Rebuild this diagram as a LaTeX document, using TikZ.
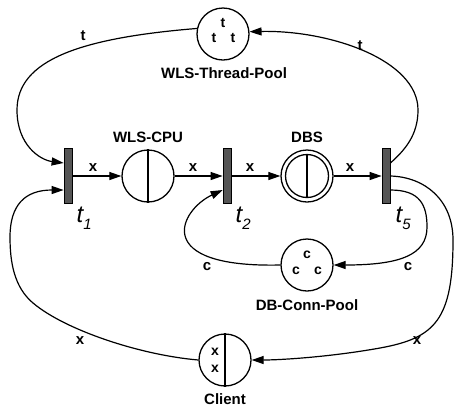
\documentclass[tikz,border=0pt]{standalone}
\usepackage{fontspec}
\setmainfont{Liberation Sans}
\usetikzlibrary{arrows.meta}
\definecolor{tgray}{HTML}{555555}
\begin{document}
\begin{tikzpicture}[x=1pt,y=-1pt,
  place/.style={circle,draw,line width=1.3pt,minimum size=52pt,inner sep=0pt},
  trans/.style={rectangle,draw,line width=0.8pt,fill=tgray,minimum width=8pt,minimum height=55pt,inner sep=0pt},
  arc/.style={line width=1.2pt,-{Triangle[length=12pt,width=8pt]}},
  bar/.style={line width=1.3pt},
  lbl/.style={font=\fontsize{15}{15}\selectfont\bfseries,inner sep=0pt},
  tok/.style={font=\fontsize{14}{14}\selectfont\bfseries,inner sep=0pt},
  tname/.style={font=\fontsize{24}{24}\selectfont\itshape,inner sep=0pt,anchor=base west}]
\useasboundingbox (0,0) rectangle (454,408);
% transitions
\node[trans] (t1) at (68,176) {};
\node[trans] (t2) at (227,176) {};
\node[trans] (t5) at (386,176) {};
% places
\node[place] (cpu) at (148,176) {};
\node[place] (dbs) at (307,176) {};
\node[place] (pool) at (223,34) {};
\node[place] (conn) at (307,265) {};
\node[place] (client) at (225,360) {};
\draw[bar] (cpu.north) -- (cpu.south);
\draw[bar] (client.north) -- (client.south);
\draw[bar] (dbs.center) circle (21.5);
\draw[bar] ([yshift=21.5pt]dbs.center) -- ([yshift=-21.5pt]dbs.center);
% tokens
\node[tok] (pt1) at (223,23) {t};
\node[tok] (pt2) at (214,38) {t};
\node[tok] (pt3) at (233,38) {t};
\node[tok] (ct1) at (307,255) {c};
\node[tok] (ct2) at (296,271) {c};
\node[tok] (ct3) at (318,271) {c};
\node[tok] (xt1) at (215,352) {x};
\node[tok] (xt2) at (215,369) {x};
% place names
\node[lbl] (lpool) at (224,73) {WLS-Thread-Pool};
\node[lbl] (lcpu) at (148,137) {WLS-CPU};
\node[lbl] (ldbs) at (307,137) {DBS};
\node[lbl] (lconn) at (307,305) {DB-Conn-Pool};
\node[lbl] (lclient) at (225,399) {Client};
% transition names
\node[tname] (n1) at ([xshift=4pt]t1.east |- 0,222) {t\raisebox{-7pt}{\fontsize{15}{15}\selectfont 1}};
\node[tname] (n2) at ([xshift=4pt]t2.east |- 0,222) {t\raisebox{-7pt}{\fontsize{15}{15}\selectfont 2}};
\node[tname] (n5) at ([xshift=5pt]t5.east |- 0,222) {t\raisebox{-7pt}{\fontsize{15}{15}\selectfont 5}};
% horizontal arcs
\draw[arc] (t1) -- (cpu);
\draw[arc] (cpu) -- (t2);
\draw[arc] (t2) -- (dbs);
\draw[arc] (dbs) -- (t5);
% thread pool loop
\draw[arc] (pool.168) .. controls (80,38) and (17,60) .. (17,110)
  .. controls (17,145) and (40,160) .. ([yshift=13pt]t1.west);
\draw[arc] ([yshift=13pt]t5.east) .. controls (405,150) and (418,135) .. (418,110)
  .. controls (418,60) and (330,30) .. (pool.5);
% connection pool loop
\draw[arc] ([yshift=-14pt]t5.east) .. controls (420,190) and (427,205) .. (427,227)
  .. controls (427,255) and (400,265) .. (conn.east);
\draw[arc] (conn.west) .. controls (150,268) and (180,210) .. ([yshift=-14pt]t2.west);
% client loop
\draw[arc] (t5.east) .. controls (425,177) and (453,200) .. (453,240)
  .. controls (453,320) and (435,338) .. (380,348)
  .. controls (330,357) and (280,360) .. (client.east);
\draw[arc] (client.west) .. controls (140,355) and (65,330) .. (33,303)
  .. controls (14,287) and (10,262) .. (10,237)
  .. controls (10,205) and (25,190) .. ([yshift=-14pt]t1.west);
% arc labels
\node[lbl] (a1) at (93,168) {x};
\node[lbl] (a2) at (193,168) {x};
\node[lbl] (a3) at (250,168) {x};
\node[lbl] (a4) at (350,168) {x};
\node[lbl] (a5) at (83,36) {t};
\node[lbl] (a6) at (360,46) {t};
\node[lbl] (a7) at (207,267) {c};
\node[lbl] (a8) at (408,267) {c};
\node[lbl] (a9) at (80,341) {x};
\node[lbl] (a10) at (417,341) {x};
\end{tikzpicture}
\end{document}
